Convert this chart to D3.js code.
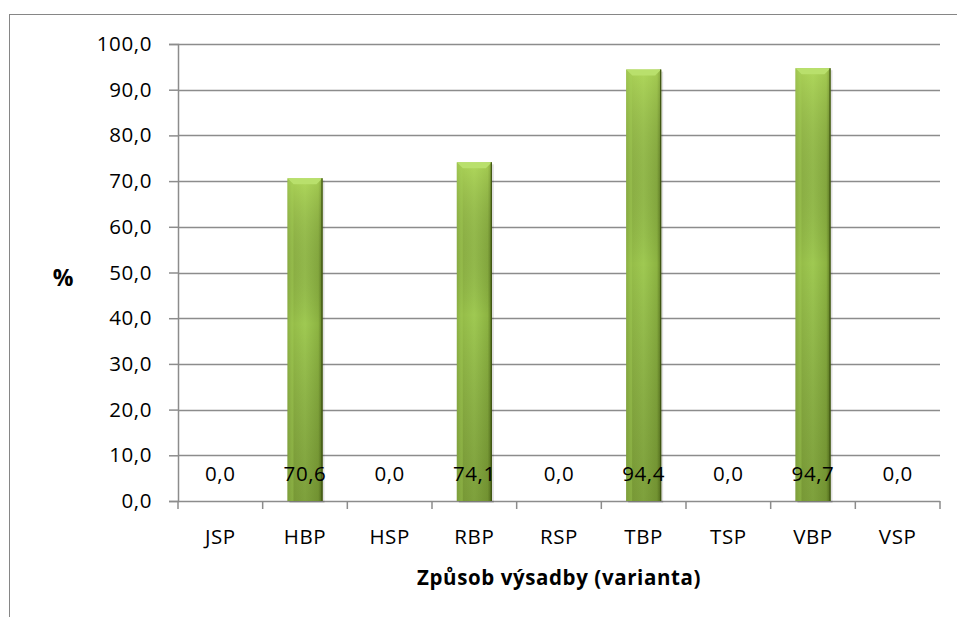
<!DOCTYPE html>
<html>
<head>
<meta charset="utf-8">
<script src="https://cdn.jsdelivr.net/npm/d3@7"></script>
<style>
  html, body { margin: 0; padding: 0; background: #fff; }
  svg { display: block; }
  text { font-family: "Open Sans", "Noto Sans", sans-serif; fill: #000; }
</style>
</head>
<body>
<svg id="chart" width="957" height="617"></svg>
<script>
// Podíl ujatých sazenic podle způsobu výsadby
const categories = ["JSP", "HBP", "HSP", "RBP", "RSP", "TBP", "TSP", "VBP", "VSP"];
const values = [0.0, 70.6, 0.0, 74.1, 0.0, 94.4, 0.0, 94.7, 0.0];
const yTicks = [0, 10, 20, 30, 40, 50, 60, 70, 80, 90, 100];
const xTitle = "Způsob výsadby (varianta)";
const yTitle = "%";

const fmt = v => d3.format(".1f")(v).replace(".", ",");

const svg = d3.select("#chart");
const W = 957, H = 617;
const plot = { left: 178, right: 940, top: 44, bottom: 501 };
const FS = 20.5;
const LS = 0.6;

// Chart frame
svg.append("rect")
  .attr("x", 9.5).attr("y", 14.5)
  .attr("width", W + 10).attr("height", H + 10)
  .attr("fill", "#fff").attr("stroke", "#868686").attr("stroke-width", 1);

const defs = svg.append("defs");
const body = defs.append("linearGradient").attr("id", "barBody")
  .attr("x1", 0).attr("x2", 1).attr("y1", 0).attr("y2", 0);
body.append("stop").attr("offset", "0%").attr("stop-color", "#7f9f3a");
body.append("stop").attr("offset", "12%").attr("stop-color", "#94bb47");
body.append("stop").attr("offset", "50%").attr("stop-color", "#9fc952");
body.append("stop").attr("offset", "88%").attr("stop-color", "#8db442");
body.append("stop").attr("offset", "100%").attr("stop-color", "#5d7a22");

const shade = defs.append("linearGradient").attr("id", "barShade")
  .attr("x1", 0).attr("x2", 0).attr("y1", 0).attr("y2", 1);
shade.append("stop").attr("offset", "0%").attr("stop-color", "#c8ee6a").attr("stop-opacity", 0.4);
shade.append("stop").attr("offset", "45%").attr("stop-color", "#000").attr("stop-opacity", 0.0);
shade.append("stop").attr("offset", "100%").attr("stop-color", "#2a3a05").attr("stop-opacity", 0.28);

const x = d3.scaleBand().domain(categories).range([plot.left, plot.right]).paddingInner(0).paddingOuter(0);
const y = d3.scaleLinear().domain([0, 100]).range([plot.bottom, plot.top]);

// Horizontal gridlines
svg.append("g").selectAll("line").data(yTicks.slice(1)).join("line")
  .attr("x1", plot.left).attr("x2", plot.right)
  .attr("y1", d => Math.round(y(d)) + 0.5).attr("y2", d => Math.round(y(d)) + 0.5)
  .attr("stroke", "#8c8c8c").attr("stroke-width", 1.5);

// Y axis
const yAxis = d3.axisLeft(y).tickValues(yTicks).tickFormat(fmt).tickSize(9).tickPadding(17);
const gy = svg.append("g").attr("transform", `translate(${plot.left},0)`).call(yAxis);
gy.select(".domain").attr("stroke", "#8c8c8c").attr("stroke-width", 1.5);
gy.selectAll(".tick line").attr("stroke", "#8c8c8c").attr("stroke-width", 1.5);
gy.selectAll(".tick text").attr("font-family", "'Open Sans', sans-serif").attr("font-size", FS)
  .attr("letter-spacing", LS).attr("fill", "#000");

// X axis with ticks at category boundaries
const gx = svg.append("g").attr("transform", `translate(0,${plot.bottom})`);
gx.append("line").attr("x1", plot.left).attr("x2", plot.right).attr("y1", 0.5).attr("y2", 0.5)
  .attr("stroke", "#8c8c8c").attr("stroke-width", 1.5);
const bounds = categories.map(c => x(c)).concat([x(categories[categories.length - 1]) + x.bandwidth()]);
gx.selectAll("line.tk").data(bounds).join("line").attr("class", "tk")
  .attr("x1", d => d).attr("x2", d => d).attr("y1", 0).attr("y2", 8)
  .attr("stroke", "#8c8c8c").attr("stroke-width", 1.5);
gx.selectAll("text").data(categories).join("text")
  .attr("x", d => x(d) + x.bandwidth() / 2).attr("y", 43)
  .attr("text-anchor", "middle").attr("font-size", FS).attr("letter-spacing", LS).text(d => d);

// Bars
const bw = 35;
const bars = svg.append("g").selectAll("g").data(categories.map((c, i) => ({ c, v: values[i] })).filter(d => d.v > 0)).join("g");
bars.append("rect")
  .attr("x", d => x(d.c) + x.bandwidth() / 2 - bw / 2 + 2).attr("y", d => y(d.v) + 2)
  .attr("width", bw).attr("height", d => y(0) - y(d.v))
  .attr("fill", "#000").attr("opacity", 0.12);
bars.append("rect")
  .attr("x", d => x(d.c) + x.bandwidth() / 2 - bw / 2).attr("y", d => y(d.v))
  .attr("width", bw).attr("height", d => y(0) - y(d.v))
  .attr("fill", "url(#barBody)");
bars.append("rect")
  .attr("x", d => x(d.c) + x.bandwidth() / 2 - bw / 2).attr("y", d => y(d.v))
  .attr("width", bw).attr("height", d => y(0) - y(d.v))
  .attr("fill", "url(#barShade)");
// Bevelled top
bars.append("path")
  .attr("d", d => {
    const l = x(d.c) + x.bandwidth() / 2 - bw / 2, r = l + bw, t = y(d.v), b = t + 6;
    return `M${l},${t}L${r},${t}L${r - 6},${b}L${l + 6},${b}Z`;
  })
  .attr("fill", "#b9e06c");
bars.append("path")
  .attr("d", d => {
    const l = x(d.c) + x.bandwidth() / 2 - bw / 2, t = y(d.v);
    return `M${l},${t}L${l + 6},${t + 6}L${l + 6},${y(0)}L${l},${y(0)}Z`;
  })
  .attr("fill", "#a7d05a").attr("opacity", 0.35);
bars.append("line")
  .attr("x1", d => x(d.c) + x.bandwidth() / 2 + bw / 2 - 0.5)
  .attr("x2", d => x(d.c) + x.bandwidth() / 2 + bw / 2 - 0.5)
  .attr("y1", d => y(d.v)).attr("y2", y(0))
  .attr("stroke", "#3f5412").attr("stroke-width", 1.2);

// Value labels
svg.append("g").selectAll("text").data(categories.map((c, i) => ({ c, v: values[i] }))).join("text")
  .attr("x", d => x(d.c) + x.bandwidth() / 2).attr("y", 481)
  .attr("text-anchor", "middle").attr("font-size", FS).attr("letter-spacing", LS).text(d => fmt(d.v));

// Axis titles
svg.append("text").attr("x", (plot.left + plot.right) / 2).attr("y", 585)
  .attr("text-anchor", "middle").attr("font-size", 20.5).attr("font-weight", "bold")
  .attr("letter-spacing", 0.6).text(xTitle);
svg.append("text").attr("x", 63).attr("y", 286)
  .attr("text-anchor", "middle").attr("font-size", 23).attr("font-weight", "bold").text(yTitle);
</script>
</body>
</html>
